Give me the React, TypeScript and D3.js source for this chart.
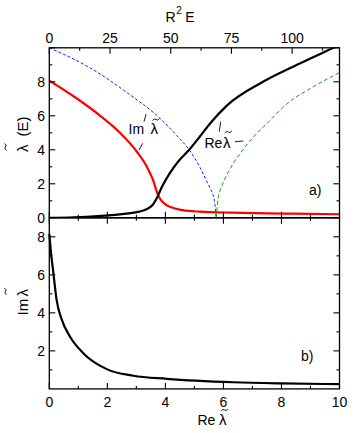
import { useEffect, useRef } from "react";
import * as d3 from "d3";

// panel a): curves against R^2 E
const redE = [0, 10, 21, 29.1, 36, 40, 42.5, 44.9, 47, 50, 55, 62, 75, 90, 100, 119.5];
const redIm = [8.07, 7.15, 6.0, 5.0, 3.9, 3.05, 2.3, 1.3, 0.88, 0.63, 0.45, 0.36, 0.3, 0.26, 0.24, 0.21];

const blackE = [0, 10, 20, 30, 37, 40, 42.5, 44.4, 46.5, 49.5, 53, 57.6, 62.1, 66.2, 73.1, 88, 102, 117, 120];
const blackRe = [0, 0.03, 0.1, 0.22, 0.36, 0.5, 0.75, 1.2, 1.85, 2.6, 3.3, 4.0, 4.8, 5.55, 6.6, 8.0, 9.0, 10.0, 10.2];

const blueE = [0, 16.4, 32.8, 45.2, 52.5, 57.6, 62.1, 65, 67, 68, 68.7];
const blueV = [10, 8.85, 7.28, 5.9, 4.84, 4.0, 2.95, 2.1, 1.5, 1.0, 0];

const greenE = [68.7, 69.5, 71, 73, 76, 80, 84, 90, 97.8, 107.4, 119.7];
const greenV = [0, 1.1, 1.85, 2.5, 3.25, 4.05, 4.74, 5.6, 6.7, 7.6, 8.56];

// panel b): Im vs Re
const bRe = [0, 0.05, 0.14, 0.25, 0.43, 0.71, 1.17, 1.98, 2.9, 4.05, 6.35, 8, 10];
const bIm = [8.15, 7.3, 6.1, 4.7, 3.64, 2.76, 1.88, 1.04, 0.69, 0.53, 0.35, 0.29, 0.25];

const eTicks = [0, 25, 50, 75, 100];
const eMinor = [12.5, 37.5, 62.5, 87.5, 112.5];
const reTicks = [0, 2, 4, 6, 8, 10];
const reMinor = [1, 3, 5, 7, 9];
const yaTicks = [0, 2, 4, 6, 8, 10];
const yaLabels = [0, 2, 4, 6, 8];
const yaMinor = [1, 3, 5, 7, 9];
const ybTicks = [2, 4, 6, 8];
const ybMinor = [1, 3, 5, 7];

const FONT = "'Liberation Sans', Arial, sans-serif";

export default function App() {
  const ref = useRef<SVGSVGElement>(null);

  useEffect(() => {
    const svg = d3.select(ref.current);
    svg.selectAll("*").remove();

    const left = 49.3;
    const right = 339.5;
    const topA = 47.8;
    const botA = 217.8;
    const botB = 388.9;

    const xE = d3.scaleLinear().domain([0, 119.5]).range([left, right]);
    const xRe = d3.scaleLinear().domain([0, 10]).range([left, right]);
    const yA = d3.scaleLinear().domain([0, 10]).range([botA, topA]);
    const yB = d3.scaleLinear().domain([0, 9]).range([botB, botA]);

    svg
      .append("defs")
      .append("clipPath")
      .attr("id", "clipA")
      .append("rect")
      .attr("x", left)
      .attr("y", topA)
      .attr("width", right - left)
      .attr("height", botA - topA);

    const tildeAt = (g: any, cx: number, cy: number) =>
      g
        .append("path")
        .attr("d", `M${cx - 3.5},${cy + 1} Q${cx - 1.75},${cy - 1.6} ${cx},${cy} T${cx + 3.5},${cy - 1}`)
        .attr("fill", "none")
        .attr("stroke", "#000")
        .attr("stroke-width", 0.9);

    const seg = (g: any, x1: number, y1: number, x2: number, y2: number) =>
      g
        .append("line")
        .attr("x1", x1)
        .attr("y1", y1)
        .attr("x2", x2)
        .attr("y2", y2)
        .attr("stroke", "#000")
        .attr("stroke-width", 0.9);

    // ---- curves, panel a
    const plotA = svg.append("g").attr("clip-path", "url(#clipA)");
    const lineA = (xs: number[], ys: number[]) =>
      d3
        .line<number>()
        .x((d, i) => xE(xs[i]))
        .y((d) => yA(d))
        .curve(d3.curveMonotoneX)(ys);

    plotA
      .append("path")
      .attr("d", lineA(blueE, blueV))
      .attr("fill", "none")
      .attr("stroke", "#1f1fff")
      .attr("stroke-width", 1)
      .attr("stroke-dasharray", "3,2");
    plotA
      .append("path")
      .attr("d", lineA(greenE, greenV))
      .attr("fill", "none")
      .attr("stroke", "#10a010")
      .attr("stroke-width", 1)
      .attr("stroke-dasharray", "4,2.5");
    plotA
      .append("path")
      .attr("d", lineA(redE, redIm))
      .attr("fill", "none")
      .attr("stroke", "#ff0000")
      .attr("stroke-width", 2.2);
    plotA
      .append("path")
      .attr("d", lineA(blackE, blackRe))
      .attr("fill", "none")
      .attr("stroke", "#000")
      .attr("stroke-width", 2.2);

    // ---- curve, panel b
    const lineB = d3
      .line<number>()
      .x((d, i) => xRe(bRe[i]))
      .y((d) => yB(d))
      .curve(d3.curveMonotoneX);
    svg
      .append("path")
      .attr("d", lineB(bIm))
      .attr("fill", "none")
      .attr("stroke", "#000")
      .attr("stroke-width", 2.2);

    // ---- frames
    [
      [topA, botA],
      [botA, botB],
    ].forEach(([t, b]) =>
      svg
        .append("rect")
        .attr("x", left)
        .attr("y", t)
        .attr("width", right - left)
        .attr("height", b - t)
        .attr("fill", "none")
        .attr("stroke", "#000")
        .attr("stroke-width", 1.3)
    );

    // ---- ticks
    const ticks = svg.append("g").attr("stroke", "#000").attr("stroke-width", 1.1);
    const vTick = (x: number, y: number, len: number) =>
      ticks.append("line").attr("x1", x).attr("x2", x).attr("y1", y).attr("y2", y + len);
    const hTick = (x: number, y: number, len: number) =>
      ticks.append("line").attr("x1", x).attr("x2", x + len).attr("y1", y).attr("y2", y);

    eTicks.forEach((v) => vTick(xE(v), topA, 6));
    eMinor.forEach((v) => vTick(xE(v), topA, 3));
    reTicks.forEach((v) => {
      vTick(xRe(v), botA, -6);
      vTick(xRe(v), botA, 6);
      vTick(xRe(v), botB, -6);
    });
    reMinor.forEach((v) => {
      vTick(xRe(v), botA, -3);
      vTick(xRe(v), botA, 3);
      vTick(xRe(v), botB, -3);
    });
    yaTicks.forEach((v) => {
      hTick(left, yA(v), 6);
      hTick(right, yA(v), -6);
    });
    yaMinor.forEach((v) => {
      hTick(left, yA(v), 3);
      hTick(right, yA(v), -3);
    });
    ybTicks.forEach((v) => {
      hTick(left, yB(v), 6);
      hTick(right, yB(v), -6);
    });
    ybMinor.forEach((v) => {
      hTick(left, yB(v), 3);
      hTick(right, yB(v), -3);
    });

    // ---- tick labels
    const txt = svg.append("g").attr("font-family", FONT).attr("font-size", 14).attr("fill", "#000");
    eTicks.forEach((v) =>
      txt.append("text").attr("x", xE(v)).attr("y", 42.8).attr("text-anchor", "middle").text(v)
    );
    reTicks.forEach((v) =>
      txt.append("text").attr("x", xRe(v)).attr("y", 407).attr("text-anchor", "middle").text(v)
    );
    yaLabels.forEach((v) =>
      txt.append("text").attr("x", 45).attr("y", yA(v) + 5).attr("text-anchor", "end").text(v)
    );
    ybTicks.forEach((v) =>
      txt.append("text").attr("x", 45).attr("y", yB(v) + 5).attr("text-anchor", "end").text(v)
    );

    // ---- axis titles
    const top = txt.append("text").attr("x", 165.5).attr("y", 21.5);
    top.append("tspan").text("R");
    top.append("tspan").attr("font-size", 10).attr("dy", -7.5).attr("dx", 0.5).text("2");
    top.append("tspan").attr("dy", 7.5).attr("dx", 3.5).text("E");

    const ga = txt.append("g").attr("transform", "translate(27.5,152) rotate(-90)");
    ga.append("text").attr("x", 0).attr("y", 0).attr("font-size", 15).text("λ");
    tildeAt(ga, 5, -22);
    ga.append("text").attr("x", 15.5).attr("y", 0).attr("font-size", 15).text("(E)");

    const gb = txt.append("g").attr("transform", "translate(27.5,315.5) rotate(-90)");
    gb.append("text").attr("x", 0).attr("y", 0).attr("font-size", 15).text("Im");
    gb.append("text").attr("x", 19).attr("y", 0).attr("font-size", 15).text("λ");
    tildeAt(gb, 24, -22);

    txt.append("text").attr("x", 197.5).attr("y", 424.5).text("Re");
    txt.append("text").attr("x", 219).attr("y", 424.5).attr("font-size", 15).text("λ");
    tildeAt(txt, 224.5, 410);

    // ---- curve annotations
    txt.append("text").attr("x", 128.5).attr("y", 134).text("Im");
    txt.append("text").attr("x", 150.5).attr("y", 134).attr("font-size", 15).text("λ");
    tildeAt(txt, 156, 119.5);
    seg(txt, 146, 114.3, 144, 121.7);
    seg(txt, 142.7, 143.3, 139, 150);

    txt.append("text").attr("x", 204.5).attr("y", 148.3).text("Re");
    txt.append("text").attr("x", 223).attr("y", 148.3).attr("font-size", 15).text("λ");
    tildeAt(txt, 228.3, 132);
    seg(txt, 220.7, 121.7, 219.3, 131.7);
    seg(txt, 235, 141.7, 243.3, 141);

    txt.append("text").attr("x", 309).attr("y", 195).text("a)");
    txt.append("text").attr("x", 301).attr("y", 360.5).text("b)");
  }, []);

  return (
    <svg
      ref={ref}
      width={354}
      height={433}
      style={{ position: "absolute", left: 0, top: 0, background: "#fff" }}
    />
  );
}
